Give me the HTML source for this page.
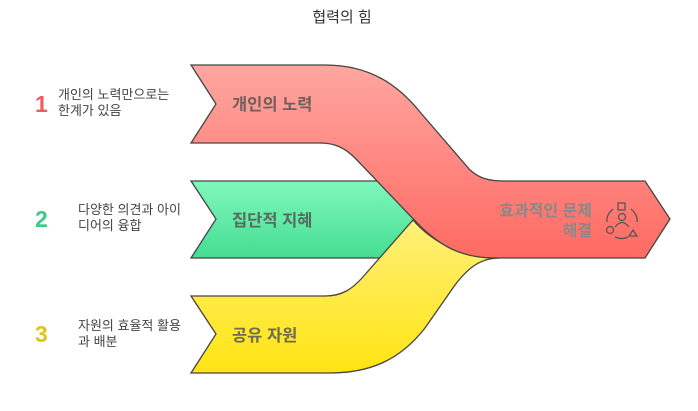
<!DOCTYPE html>
<html><head><meta charset="utf-8"><style>
body{margin:0;width:698px;height:406px;background:#fff;overflow:hidden;font-family:"Liberation Sans","Noto Sans CJK KR",sans-serif;}
</style></head><body>
<svg width="698" height="406" viewBox="0 0 698 406" xmlns="http://www.w3.org/2000/svg" style="font-family:'Liberation Sans','Noto Sans CJK KR',sans-serif">
<defs>
<linearGradient id="gr" x1="0" y1="0" x2="0" y2="1"><stop offset="0" stop-color="#ffa6a0"/><stop offset="1" stop-color="#ff6a62"/></linearGradient>
<linearGradient id="gg" x1="0" y1="0" x2="0" y2="1"><stop offset="0" stop-color="#80f8bc"/><stop offset="1" stop-color="#45dd92"/></linearGradient>
<linearGradient id="gy" x1="0" y1="0" x2="0" y2="1"><stop offset="0" stop-color="#fff07a"/><stop offset="1" stop-color="#ffe412"/></linearGradient>
</defs>
<text x="342" y="22" text-anchor="middle" font-size="15" fill="#333">협력의 힘</text>
<path d="M191,181 L385,181 L420,222 L380,258 L191,258 L216,219 Z" fill="url(#gg)" stroke="#444" stroke-width="1.3"/>
<path d="M191,296 L325,296 C342,296 352,289 362,278 L413,220 C432,242 462,258 500,258 C480,258 468,268 455,285 L425,328 C400,360 370,373 330,373 L191,373 L216,334 Z" fill="url(#gy)" stroke="#444" stroke-width="1.3"/>
<path d="M191,65 L325,65 C370,65 398,85 420,112 L470,170 C480,179 490,181 505,181 L645,181 L670,219 L645,258 L495,258 C460,258 440,245 420,226 L355,158 C345,148 335,143 320,143 L191,143 L216,104 Z" fill="url(#gr)" stroke="#444" stroke-width="1.3"/>
<g font-size="16.5" font-weight="bold" fill="#555" fill-opacity="0.85">
<text x="232" y="110">개인의 노력</text>
<text x="232" y="226">집단적 지혜</text>
<text x="232" y="341">공유 자원</text>
</g>
<g font-size="16" font-weight="bold" fill="#888" text-anchor="end">
<text x="592" y="216">효과적인 문제</text>
<text x="592" y="236">해결</text>
</g>
<g fill="none" stroke="#555" stroke-width="1.3">
<rect x="618" y="203" width="7" height="7"/>
<circle cx="622" cy="217" r="3.5"/>
<path d="M615,227 Q622,218 629,227"/>
<circle cx="610" cy="230" r="3.5"/>
<path d="M633,230 L637,236 L629,236 Z"/>
<path d="M613,209 Q606,215 607,222"/>
<path d="M631,209 Q638,215 637,222"/>
<path d="M615,237 Q622,240 628,237"/>
</g>
<g font-size="23" font-weight="bold">
<text x="35" y="112" fill="#ee5c5c">1</text>
<text x="35" y="227" fill="#3cc98a">2</text>
<text x="35" y="342" fill="#e0c41c">3</text>
</g>
<g font-size="13" fill="#444">
<text x="58" y="99">개인의 노력만으로는</text>
<text x="58" y="115">한계가 있음</text>
<text x="78" y="214">다양한 의견과 아이</text>
<text x="78" y="230">디어의 융합</text>
<text x="78" y="330">자원의 효율적 활용</text>
<text x="78" y="346">과 배분</text>
</g>
</svg>
</body></html>
